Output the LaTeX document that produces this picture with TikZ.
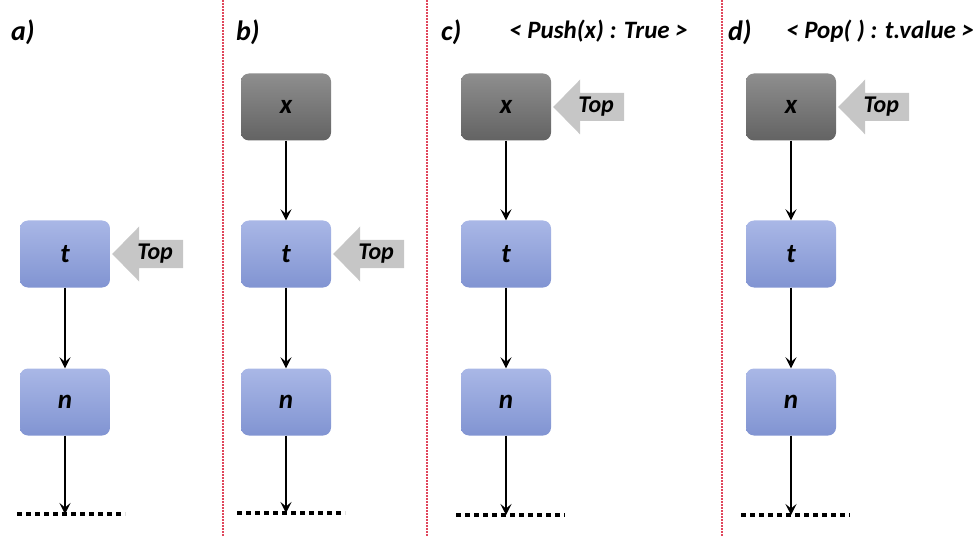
\documentclass[tikz,border=0pt]{standalone}
\usepackage{fontspec}
\setmainfont{Carlito}
\usetikzlibrary{arrows.meta}
\definecolor{boxtop}{HTML}{A9B7E6}
\definecolor{boxbot}{HTML}{8194D2}
\definecolor{darktop}{HTML}{8E8E8E}
\definecolor{darkbot}{HTML}{636363}
\definecolor{pointergray}{HTML}{C6C6C6}
\definecolor{sepred}{HTML}{E0475C}
\tikzset{
  cell/.style={rounded corners=8pt, minimum width=90pt, minimum height=67pt,
    inner sep=0pt, top color=boxtop, bottom color=boxbot,
    font=\fontsize{27}{32}\selectfont\bfseries\itshape},
  newcell/.style={cell, top color=darktop, bottom color=darkbot},
  link/.style={line width=1.8pt, -{Stealth[length=11pt,width=11pt,inset=4.5pt]}},
  tail/.style={line width=3.5pt, dash pattern=on 5pt off 4pt},
  separator/.style={sepred, line width=1.8pt, dash pattern=on 1.6pt off 1.4pt},
  panel/.style={anchor=west, inner sep=0pt, font=\fontsize{28}{32}\selectfont\bfseries\itshape},
  caption/.style={anchor=west, inner sep=0pt, font=\fontsize{25}{29}\selectfont\bfseries\itshape},
  toptext/.style={inner sep=0pt, font=\fontsize{24}{28}\selectfont\bfseries\itshape}
}
% grey "Top" pointer aimed at the east side of a cell
\newcommand\toppointer[2]{%
  \begin{scope}[shift={(#2.east)}]
    \fill[pointergray] (2,0) -- (29,-27.5) -- (29,-14) -- (73,-14) -- (73,14)
      -- (29,14) -- (29,27.5) -- cycle;
    \node[toptext] (#1) at (45,0) {Top};
  \end{scope}}
\begin{document}
\begin{tikzpicture}[x=1pt,y=-1pt]
\useasboundingbox (0,0) rectangle (976,537);

% panel separators
\draw[separator] (223,0) -- (223,537);
\draw[separator] (427,0) -- (427,537);
\draw[separator] (722,0) -- (722,537);

% panel letters and captions
\node[panel] (la) at (11,32) {a)};
\node[panel] (lb) at (236,32) {b)};
\node[panel] (lc) at (441,32) {c)};
\node[panel] (ld) at (728,32) {d)};
\node[caption] (cc) at (509,31) {< Push(x) : True >};
\node[caption] (cd) at (786,31) {< Pop( ) : t.value >};

% a)
\node[cell] (at) at (65,254) {t};
\node[cell] (an) at (65,402) {n};
\coordinate (aend) at (65,514);
\draw[tail] (17,514) -- (125,514);
\draw[link] (at) -- (an);
\draw[link] (an) -- (aend);
\toppointer{atop}{at}

% b)
\node[newcell] (bx) at (286,107) {x};
\node[cell] (bt) at (286,254) {t};
\node[cell] (bn) at (286,402) {n};
\coordinate (bend) at (286,513);
\draw[tail] (237,513) -- (345,513);
\draw[link] (bx) -- (bt);
\draw[link] (bt) -- (bn);
\draw[link] (bn) -- (bend);
\toppointer{btop}{bt}

% c)
\node[newcell] (cx) at (506,107) {x};
\node[cell] (ct) at (506,254) {t};
\node[cell] (cn) at (506,402) {n};
\coordinate (cend) at (506,515);
\draw[tail] (456,515) -- (565,515);
\draw[link] (cx) -- (ct);
\draw[link] (ct) -- (cn);
\draw[link] (cn) -- (cend);
\toppointer{ctop}{cx}

% d)
\node[newcell] (dx) at (791,107) {x};
\node[cell] (dt) at (791,254) {t};
\node[cell] (dn) at (791,402) {n};
\coordinate (dend) at (791,515);
\draw[tail] (741,515) -- (850,515);
\draw[link] (dx) -- (dt);
\draw[link] (dt) -- (dn);
\draw[link] (dn) -- (dend);
\toppointer{dtop}{dx}
\end{tikzpicture}
\end{document}
